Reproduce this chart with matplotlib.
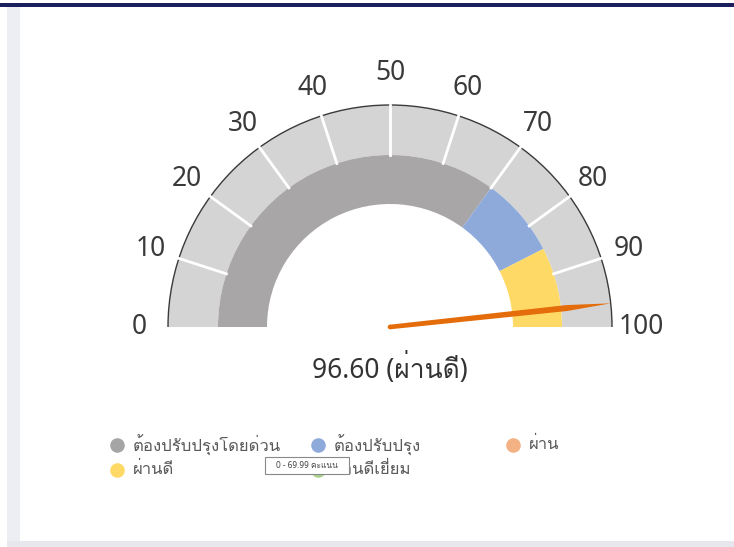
import numpy as np
import matplotlib
matplotlib.use("Agg")
import matplotlib.pyplot as plt
from matplotlib import font_manager as fm
from matplotlib.ft2font import FT2Font
from matplotlib.patches import Wedge, Rectangle, Circle, Polygon, Arc

# ข้อมูล
ticks = [0, 10, 20, 30, 40, 50, 60, 70, 80, 90, 100]
band_edges = [0, 70, 85, 100]
band_colors = ['#a9a6a7', '#8eaadb', '#ffd966']
value = 96.60
value_label = 'ผ่านดี'
legend_labels = ['ต้องปรับปรุงโดยด่วน', 'ต้องปรับปรุง', 'ผ่าน', 'ผ่านดี', 'ผ่านดีเยี่ยม']
legend_colors = ['#a5a5a5', '#8eaadb', '#f4b183', '#ffd966', '#a9d18e']
tooltip_text = '0 - 69.99 คะแนน'


def find_thai_font():
    # หา font ที่มีอักษรไทย
    for f in fm.fontManager.ttflist:
        try:
            cmap = FT2Font(f.fname).get_charmap()
        except Exception:
            continue
        if 0x0E1C in cmap and 0x0E14 in cmap:
            return f.name
    return None


thai = find_thai_font()
fam = ['Noto Sans', 'DejaVu Sans'] if thai is None else ['Noto Sans', thai, 'DejaVu Sans']
plt.rcParams['font.family'] = fam

W, H = 734, 547
fig = plt.figure(figsize=(W / 100, H / 100), dpi=100)
ax = fig.add_axes([0, 0, 1, 1])
ax.set_xlim(0, W)
ax.set_ylim(0, H)
ax.axis('off')

# พื้นหลังหน้าเว็บ
ax.add_patch(Rectangle((7, 0), 13, H - 7, color='#eceef4', lw=0))
ax.add_patch(Rectangle((7, 0), W - 7, 6, color='#e6e8ee', lw=0))
ax.add_patch(Rectangle((0, H - 7), W, 4, color='#1b1f5e', lw=0))

cx, cy = 390, 220
R_out, R_mid, R_in = 222, 172, 123


def ang(v):
    return 180 - 1.8 * v


# แถบนอก
ax.add_patch(Wedge((cx, cy), R_out, 0, 180, width=R_out - R_mid, color='#d4d4d4', lw=0))
for t in ticks[1:-1]:
    a = np.radians(ang(t))
    ax.plot([cx + R_mid * np.cos(a), cx + R_out * np.cos(a)],
            [cy + R_mid * np.sin(a), cy + R_out * np.sin(a)], color='white', lw=2)
ax.add_patch(Arc((cx, cy), 2 * R_out, 2 * R_out, theta1=0, theta2=180, color='#3a3a3a', lw=1))

# แถบสี
for i, c in enumerate(band_colors):
    ax.add_patch(Wedge((cx, cy), R_mid, ang(band_edges[i + 1]), ang(band_edges[i]),
                       width=R_mid - R_in, color=c, lw=0))

# ตัวเลข
for t in ticks:
    a = np.radians(ang(t))
    ax.text(cx + 251 * np.cos(a), cy + 251 * np.sin(a) + (3 if t == 50 else 0), str(t),
            ha='center', va='center', fontsize=19, color='#3a3a3a')

# เข็ม
a = np.radians(ang(value))
u = np.array([np.cos(a), np.sin(a)])
n = np.array([-np.sin(a), np.cos(a)])
c0 = np.array([cx, cy])
pts = [c0 + 2.3 * n, c0 + 0.8 * R_out * u + 3.0 * n, c0 + R_out * u,
       c0 + 0.8 * R_out * u - 3.0 * n, c0 - 2.3 * n]
ax.add_patch(Polygon(pts, closed=True, color='#e46c0a', lw=0, zorder=5))
ax.add_patch(Circle((cx, cy), 2.3, color='#e46c0a', lw=0, zorder=5))

ax.text(cx, H - 369, f'{value:.2f} ({value_label})', ha='center', va='center',
        fontsize=19, color='#333333')

# legend
col_x = [117, 318, 513]
row_y = [H - 445, H - 470]
for i, (lab, c) in enumerate(zip(legend_labels, legend_colors)):
    x, y = col_x[i % 3], row_y[i // 3]
    ax.scatter([x], [y], s=110, color=c, lw=0)
    ax.text(x + 16, y, lab, ha='left', va='center', fontsize=12, color='#595959')

# tooltip
ax.add_patch(Rectangle((265, H - 474), 84, 17, facecolor='white', edgecolor='#888888',
                       lw=0.8, zorder=6))
ax.text(307, H - 465.5, tooltip_text, ha='center', va='center', fontsize=6,
        color='#444444', zorder=7)

fig.savefig('out.png', dpi=100)
